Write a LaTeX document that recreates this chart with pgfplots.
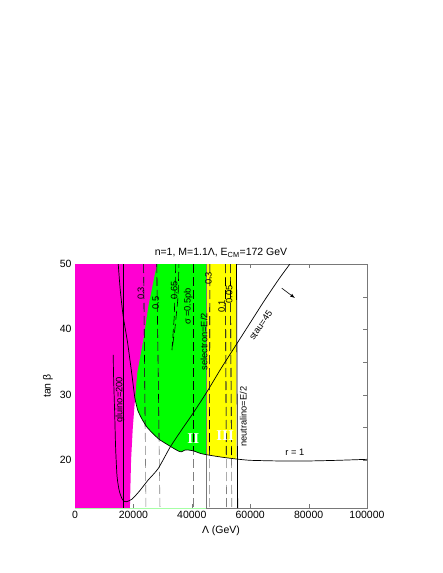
\documentclass[border=0pt]{standalone}
\usepackage{pgfplots}
\pgfplotsset{compat=1.18}
\usepackage{fontspec}
\setmainfont{Liberation Sans}
\newfontfamily\serifbf{Liberation Serif}
\definecolor{mag}{RGB}{255,0,210}
\definecolor{grn}{RGB}{0,255,0}
\definecolor{yel}{RGB}{255,255,0}
\definecolor{dgray}{RGB}{120,120,120}
\begin{document}
\begin{tikzpicture}[x=1pt,y=1pt]
\path (-75,-65) rectangle (368,508);
\begin{axis}[
  at={(0,0)}, anchor=south west,
  scale only axis, width=292pt, height=244pt,
  xmin=0, xmax=100000, ymin=12.65, ymax=50,
  xtick={0,20000,...,100000}, ytick={20,30,40,50}, minor y tick num=1,
  scaled x ticks=false,
  xticklabel style={/pgf/number format/fixed,/pgf/number format/1000 sep={}},
  /pgf/number format/assume math mode=true,
  tick label style={font=\fontsize{10.5}{12}\selectfont},
  label style={font=\fontsize{10.5}{12}\selectfont},
  title style={font=\fontsize{10.5}{12}\selectfont, yshift=-3pt},
  title={n=1, M=1.1Λ, E\textsubscript{CM}=172 GeV},
  xlabel={Λ (GeV)}, ylabel={tan β},
  axis line style={dgray}, tick style={dgray},
  major tick length=4pt, minor tick length=4pt,
  clip=true,
]
% green region
\addplot[fill=grn, draw=none] coordinates {
 (15000,50) (45100,50) (45100,20.8) (43000,21.0) (40500,21.4) (38500,21.55)
 (37500,21.5) (36500,21.25) (35500,21.35) (33700,21.8) (31500,22.4) (29000,23.1)
 (27000,23.9) (24700,25.0) (23000,26.2) (21500,27.6) (20500,29.5) (19500,33) (15000,40)
} -- cycle;
% yellow region
\addplot[fill=yel, draw=none] coordinates {
 (45100,50) (55300,50) (55300,20.15) (50000,20.45) (45100,20.8)
} -- cycle;
% magenta region
\addplot[fill=mag, draw=none] coordinates {
 (0,12.65) (18800,12.65) (19200,20) (19800,25) (20500,29) (21300,33.3)
 (23400,38.4) (25100,43.5) (27400,48.6) (28200,50) (0,50)
} -- cycle;
% light green bottom edge
\addplot[line width=0.8pt, green!35!white] coordinates {(0,12.65) (45000,12.65)};
% dashed sigma contours: gray full, black over coloured parts
\pgfplotsset{dsh/.style={dash pattern=on 9pt off 4pt, line width=0.6pt}}
\addplot[dsh, gray] coordinates {(23500,50) (24300,12.65)};
\addplot[dsh, black] coordinates {(23500,50) (24030,25.1)};
\addplot[dsh, gray] coordinates {(28000,50) (29100,12.65)};
\addplot[dsh, black] coordinates {(28000,50) (28800,23.0)};
\addplot[dsh, gray] coordinates {(40500,50) (40500,12.65)};
\addplot[dsh, black] coordinates {(40500,50) (40500,21.4)};
\addplot[dsh, gray] coordinates {(46200,50) (46000,12.65)};
\addplot[dsh, black] coordinates {(46200,50) (46040,20.75)};
\addplot[dsh, gray] coordinates {(51500,50) (51900,12.65)};
\addplot[dsh, black] coordinates {(51500,50) (51820,20.4)};
\addplot[dsh, gray] coordinates {(53200,50) (53700,12.65)};
\addplot[dsh, black] coordinates {(53200,50) (53600,20.25)};
\addplot[dsh, black] coordinates {(34500,50) (34000,42) (33200,36.8) (34200,40) (35300,45) (35600,50)};
% selectron and neutralino lines
\addplot[line width=0.8pt, dgray] coordinates {(45100,50) (45100,12.65)};
\addplot[line width=0.8pt, black] coordinates {(55300,50) (55700,12.65)};
% gluino=200
\addplot[line width=0.7pt, black] coordinates {(16400,50) (16400,12.65)};
% r = 1
\addplot[line width=0.7pt, black, smooth, tension=0.3] coordinates {
 (14800,50) (15500,46) (16500,42) (18000,38) (19500,33) (20500,29.5) (21500,27.6)
 (23000,26.2) (24700,25.0) (27000,23.9) (29000,23.1) (31500,22.4) (33700,21.8)
 (35500,21.35) (36500,21.25) (37500,21.5) (38500,21.55) (40500,21.4) (43000,21.0)
 (45100,20.8) (50000,20.45) (55200,20.15) (60000,19.95) (70000,19.85) (80000,19.85)
 (90000,19.95) (100000,20.1)};
% stau = 45
\addplot[line width=0.7pt, black, smooth, tension=0.4] coordinates {
 (13100,36.1) (13200,33) (13600,27) (13900,22) (14400,17.5) (15200,15.2) (16300,13.9)
 (17500,13.6) (19500,14.0) (22000,15.2) (25000,16.9) (28500,18.7) (32500,21.9)
 (36500,24.6) (40500,27.2) (45000,30.3) (50000,34) (55000,37.5) (60000,41)
 (65000,44.5) (70000,47.8) (73600,50)};
% arrow
\addplot[black, -latex, line width=0.6pt] coordinates {(70800,46.3) (75300,44.8)};
% labels
\tikzset{lab/.style={font=\fontsize{9.3}{10}\selectfont, inner sep=0pt}}
\node[lab, rotate=90] at (axis cs:22600,45.5) {0.3};
\node[lab, rotate=90] at (axis cs:27600,44) {0.5};
\node[lab, rotate=90] at (axis cs:34000,46) {0.65};
\node[lab, rotate=90] at (axis cs:38800,43.5) {σ =0.5pb};
\node[lab, rotate=90] at (axis cs:44200,38.1) {selectron=E/2};
\node[lab, rotate=90] at (axis cs:45700,47.8) {0.3};
\node[lab, rotate=90] at (axis cs:50200,43.5) {0.1};
\node[lab, rotate=90] at (axis cs:52800,45.3) {0.05};
\node[lab, rotate=90] at (axis cs:57600,26.6) {neutralino=E/2};
\node[lab, rotate=90] at (axis cs:15400,29.2) {gluino=200};
\node[lab, rotate=55.5] at (axis cs:63600,40.6) {stau=45};
\node[lab] at (axis cs:75300,21.1) {r = 1};
\node[font=\serifbf\bfseries\fontsize{15}{16}\selectfont, white, inner sep=0pt] at (axis cs:40500,23.3) {II};
\node[font=\serifbf\bfseries\fontsize{15}{16}\selectfont, white, inner sep=0pt] at (axis cs:51400,23.8) {III};
\end{axis}
\end{tikzpicture}
\end{document}
